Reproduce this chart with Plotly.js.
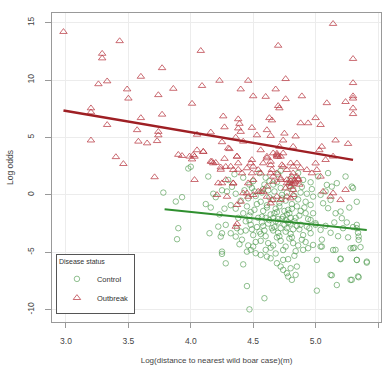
<!DOCTYPE html>
<html>
<head>
<meta charset="utf-8">
<script src="https://cdn.plot.ly/plotly-3.0.1.min.js"></script>
<style>html,body{margin:0;padding:0;background:#fff;}#chart{width:384px;height:371px;}</style>
</head>
<body>
<div id="chart"></div>
<script>
// Outbreak (triangles)
const outbreakX = [
  2.98,3.43,3.29,3.29,3.26,3.33,3.20,3.20,3.20,3.33,
  3.40,3.46,3.49,3.50,3.60,3.60,3.57,3.58,3.65,3.73,
  3.74,3.77,3.77,3.74,3.74,3.71,3.86,3.90,3.93,4.01,
  3.99,4.01,4.05,4.05,4.08,4.09,4.10,4.16,4.16,4.20,
  4.23,4.26,4.25,4.27,4.31,4.27,4.28,4.24,4.34,4.37,
  4.38,4.39,4.38,4.40,4.36,4.38,4.40,4.42,4.46,4.49,
  4.50,4.53,4.56,4.60,4.61,4.64,4.63,4.65,4.68,4.70,
  4.70,4.71,4.76,4.76,4.75,4.74,4.71,4.69,4.69,4.89,
  4.88,4.84,4.82,4.94,5.00,5.04,5.09,5.05,5.03,5.14,
  5.16,5.24,5.26,5.30,5.30,5.30,5.30,5.30,5.30,5.14,
  5.00,4.02,4.03,4.10,4.17,4.18,4.24,4.30,4.37,4.38,
  4.03,4.25,4.34,4.46,4.48,4.49,4.50,4.54,4.56,4.58,
  4.61,4.64,4.66,4.69,4.72,4.64,4.66,4.69,4.72,4.74,
  4.77,4.80,4.82,4.85,4.77,4.80,4.76,4.82,4.45,4.50,
  4.56,4.61,4.69,4.72,4.64,4.40,4.37,4.29,4.93,4.97,
  4.88,4.85,4.82,4.81,5.01,5.04,5.12,5.14,5.20,5.06,
  5.24,5.08,4.37,4.36,4.49,4.50,4.58,4.61,4.66,4.72,
  4.77,4.65,4.54,4.73,4.70,4.74,4.64,4.65,4.61,4.80,
  4.83,4.86,4.87,4.77,4.80,4.82,4.41,4.45,4.28,4.21,
  4.22,4.42,4.46,4.34,4.32,4.84,4.79,4.86,4.81,4.83
];
const outbreakY = [
  14.2,13.4,12.3,11.9,9.65,9.9,7.55,7.2,4.75,6.1,
  3.3,2.7,9.2,8.4,10.3,6.7,5.65,4.65,4.5,4.7,
  8.7,11.05,7.0,5.5,5.2,1.55,9.25,3.5,3.4,7.95,
  3.35,3.1,5.25,3.9,12.55,9.5,3.75,5.45,2.9,2.8,
  9.95,6.85,4.6,5.9,4.0,3.15,2.45,2.2,1.0,3.35,
  6.6,6.2,5.8,5.5,5.0,2.2,9.2,4.65,9.95,5.85,
  8.6,5.2,3.9,8.55,5.65,5.15,6.7,6.5,9.2,13.0,
  7.75,7.55,10.1,8.35,5.35,4.75,4.2,3.6,3.35,8.6,
  6.25,5.1,4.2,6.25,6.7,6.1,8.0,4.2,3.9,14.9,
  4.75,8.1,4.45,11.85,9.75,8.6,8.4,7.55,7.05,3.35,
  2.75,3.48,3.34,3.77,2.9,2.76,2.4,4.07,3.34,2.76,
  1.31,1.02,1.02,1.02,2.76,3.05,2.47,2.18,1.89,2.76,
  3.2,2.9,3.63,3.48,3.34,1.89,1.6,1.89,1.31,2.47,
  2.18,2.76,1.89,1.6,1.02,0.72,0.58,0.44,0.15,0.0,
  0.29,-0.15,-0.15,-0.44,-0.73,-0.58,-0.87,-0.15,2.18,1.89,
  2.33,2.76,2.47,1.6,2.18,1.6,-0.15,0.15,-0.44,0.29,
  0.44,3.05,-2.53,-2.76,1.89,1.31,0.29,0.73,1.16,1.45,
  1.31,-0.44,0.29,2.6,3.34,3.63,2.6,2.18,3.34,1.2,
  1.0,1.3,0.9,-0.15,-0.29,0.0,1.89,2.33,1.31,0.0,
  1.02,0.15,-0.15,2.18,2.47,1.15,1.05,1.4,0.95,1.25
];

// Control (circles)
const controlX = [
  3.78,3.93,3.88,3.90,3.89,3.98,4.00,4.14,4.15,4.25,
  4.25,4.28,4.42,4.45,4.47,4.59,5.01,5.13,5.17,5.28,
  5.34,5.41,5.33,5.20,5.28,5.14,5.04,4.98,4.20,4.12,
  4.23,4.22,4.28,4.24,4.25,4.32,4.36,4.40,4.29,4.32,
  4.27,4.45,4.48,4.52,4.50,4.56,4.61,4.64,4.60,4.69,
  4.72,4.74,4.77,4.78,4.80,4.74,4.81,4.84,4.85,5.09,
  5.13,5.17,5.29,5.12,5.10,5.16,5.20,5.21,5.33,5.345,
  5.345,5.30,5.16,5.01,5.05,4.94,4.90,5.20,5.33,5.41,
  5.12,5.29,5.345,4.96,5.00,4.93,4.96,5.04,4.98,4.92,
  4.98,5.04,5.06,4.96,5.24,5.30,5.33,5.27,5.25,5.33,
  5.31,5.36,4.36,4.38,4.40,4.42,4.37,4.41,4.44,4.43,
  4.39,4.45,4.36,4.44,4.46,4.47,4.48,4.49,4.50,4.51,
  4.52,4.53,4.47,4.49,4.54,4.50,4.46,4.52,4.55,4.48,
  4.53,4.51,4.56,4.57,4.58,4.59,4.60,4.61,4.62,4.63,
  4.57,4.59,4.64,4.60,4.56,4.62,4.65,4.58,4.63,4.61,
  4.56,4.64,4.60,4.62,4.57,4.66,4.67,4.68,4.69,4.70,
  4.71,4.72,4.73,4.67,4.69,4.74,4.70,4.66,4.72,4.75,
  4.68,4.73,4.71,4.66,4.74,4.70,4.72,4.67,4.69,4.71,
  4.73,4.68,4.75,4.70,4.66,4.76,4.77,4.78,4.79,4.80,
  4.81,4.82,4.83,4.77,4.79,4.84,4.80,4.76,4.82,4.85,
  4.78,4.83,4.81,4.76,4.84,4.80,4.82,4.77,4.79,4.81,
  4.83,4.78,4.85,4.80,4.76,4.86,4.87,4.88,4.89,4.90,
  4.91,4.92,4.93,4.87,4.89,4.94,4.90,4.86,4.92,4.95,
  4.88,4.30,4.35,4.42,4.55,4.63,4.72,4.86,4.96,5.02,
  5.10,4.25,4.33,4.47,4.58,4.66,4.88,4.97,5.08,4.18,
  4.16,5.00,5.08,5.15,5.22,5.30,5.34,5.12,5.18,5.26,
  5.05
];
const controlY = [
  0.2,-0.2,-0.58,-2.9,-3.86,2.3,2.45,1.6,-3.34,-4.94,
  -5.14,-5.96,-6.05,-7.94,-9.97,-9.0,-8.34,-7.0,-7.85,-7.4,
  -7.1,-5.9,-5.67,-5.55,-4.65,-4.8,-4.5,-4.36,-0.2,-0.8,
  -1.7,-2.76,-2.61,-3.63,-3.34,-3.34,-3.63,-3.2,0.3,-0.9,
  -1.2,-4.94,-4.79,-5.08,-4.5,-5.23,-5.37,-5.52,-4.79,-5.95,
  -6.24,-6.53,-6.82,-7.11,-6.39,-5.66,-7.4,-6.97,-6.24,0.87,
  0.72,1.02,0.72,-0.44,-1.16,-1.6,-1.45,-2.03,-2.61,-3.63,
  -3.92,-4.64,-4.79,-5.66,-4.5,-4.64,-4.79,-5.6,-5.66,-5.81,
  -6.97,-7.4,-7.17,-2.18,-2.47,-2.76,-3.34,-3.05,-1.6,-1.6,
  -0.15,0.0,-0.73,-0.87,1.6,0.6,-0.6,-1.1,-2.4,-2.9,
  -4.6,-4.55,-1.2,-2.0,-0.5,-1.6,-2.9,-3.9,-2.3,0.4,
  -4.3,-1.0,0.1,-3.1,-0.3,-1.8,-2.6,0.6,-3.5,-1.3,
  -4.1,-0.8,-2.2,-3.0,-2.0,1.2,-4.4,-0.1,-3.2,-1.5,
  -2.8,0.3,-0.6,-1.9,-2.7,0.9,-3.6,-1.1,-4.2,-0.2,
  -2.4,-3.1,-1.7,1.5,-4.0,0.4,-2.9,-1.4,-2.2,-0.9,
  -3.4,-4.6,-2.0,-2.5,0.2,-0.4,-1.6,-2.3,1.1,-3.3,
  -1.0,-4.0,0.0,-2.8,-3.7,-1.9,1.8,-4.4,0.6,-2.6,
  -1.2,-2.1,-0.7,-3.1,-4.8,-2.4,-2.9,0.3,-1.5,-3.6,
  -0.3,-5.1,-1.4,-2.1,-2.0,-0.5,-1.7,-2.4,0.8,-3.4,
  -1.2,-4.2,-0.1,-2.9,-3.8,-2.0,1.4,-4.5,0.5,-2.7,
  -1.3,-2.3,-0.8,-3.2,-4.9,-2.5,-3.0,0.2,-1.6,-3.7,
  -5.3,-5.6,-1.0,-2.0,-2.2,-0.4,-1.8,-2.6,0.7,-3.5,
  -1.1,-4.1,0.1,-3.0,-3.9,-2.1,1.3,-4.4,-0.6,-2.9,
  -1.4,1.3,1.8,1.5,1.9,1.2,2.1,1.9,1.1,1.6,
  1.9,0.4,0.7,0.9,0.5,0.9,0.2,0.5,0.3,0.1,
  -1.1,-2.6,-2.7,-2.4,-2.9,-2.8,-3.3,-3.3,-3.6,-3.7,
  -3.9
];

// Fitted lines (endpoints)
const outbreakFitX = [2.98, 5.30];
const outbreakFitY = [7.35, 3.05];
const controlFitX = [3.79, 5.41];
const controlFitY = [-1.25, -3.05];

const xTicks = [3.0, 3.5, 4.0, 4.5, 5.0, 5.5];
const xTickText = ['3.0', '3.5', '4.0', '4.5', '5.0', '5.5'];
const yTicks = [-10, -5, 0, 5, 10, 15];
const yTickText = ['-10', '-5', '0', '5', '10', '15'];

const traces = [
  {
    x: controlX, y: controlY, type: 'scatter', mode: 'markers', name: 'Control',
    marker: {symbol: 'circle-open', size: 5.5, color: 'rgba(70,150,70,0.6)', line: {width: 1}}
  },
  {
    x: outbreakX, y: outbreakY, type: 'scatter', mode: 'markers', name: 'Outbreak',
    marker: {symbol: 'triangle-up-open', size: 6.5, color: 'rgba(185,60,70,0.75)', line: {width: 1}}
  },
  {
    x: outbreakFitX, y: outbreakFitY, type: 'scatter', mode: 'lines', showlegend: false,
    line: {color: '#9e1f24', width: 2.5}, hoverinfo: 'skip'
  },
  {
    x: controlFitX, y: controlFitY, type: 'scatter', mode: 'lines', showlegend: false,
    line: {color: '#2f8f2f', width: 2}, hoverinfo: 'skip'
  }
];

const axisFont = {family: 'Liberation Sans, Arial, sans-serif', size: 8.5, color: '#444'};

const layout = {
  width: 384, height: 371,
  margin: {l: 52, r: 3, t: 13, b: 49},
  paper_bgcolor: '#fff', plot_bgcolor: '#fff',
  font: {family: 'Liberation Sans, Arial, sans-serif', size: 8, color: '#444'},
  showlegend: true,
  xaxis: {
    range: [2.888, 5.524], tickvals: xTicks, ticktext: xTickText,
    showgrid: true, gridcolor: '#ececec', gridwidth: 1, zeroline: false,
    showline: true, mirror: true, linecolor: '#999', linewidth: 1,
    ticks: 'outside', ticklen: 5, tickcolor: '#999', tickfont: axisFont,
    ticklabelstandoff: 6,
    title: {text: 'Log(distance to nearest wild boar case)(m)', font: {size: 8, color: '#444'}, standoff: 12}
  },
  yaxis: {
    range: [-11.07, 15.84], tickvals: yTicks, ticktext: yTickText, tickangle: -90,
    showgrid: true, gridcolor: '#ececec', gridwidth: 1, zeroline: false,
    showline: true, mirror: true, linecolor: '#999', linewidth: 1,
    ticks: 'outside', ticklen: 6, tickcolor: '#999', tickfont: axisFont,
    ticklabelstandoff: 8,
    title: {text: 'Log odds', font: {size: 8.5, color: '#444'}, standoff: 10}
  },
  legend: {
    x: 0.012, y: 0.025, xanchor: 'left', yanchor: 'bottom',
    bgcolor: '#fff', bordercolor: '#555', borderwidth: 1,
    font: {size: 7.5, color: '#333'},
    title: {text: 'Disease status', font: {size: 7, color: '#333'}},
    tracegroupgap: 0, itemwidth: 30
  }
};

Plotly.newPlot('chart', traces, layout, {displayModeBar: false, staticPlot: true});
</script>
</body>
</html>
